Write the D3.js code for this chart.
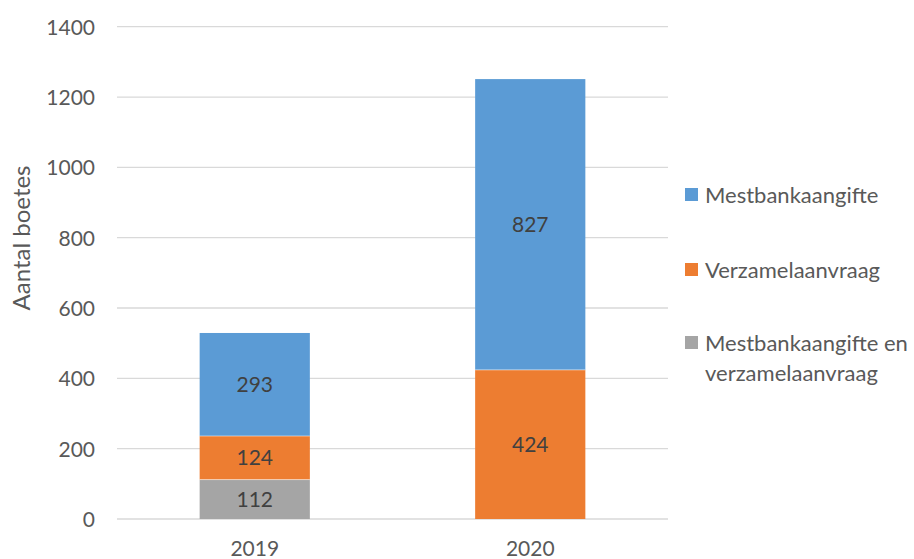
<!DOCTYPE html>
<html>
<head>
<meta charset="utf-8">
<script src="https://cdn.jsdelivr.net/npm/d3@7"></script>
<style>
  html, body { margin: 0; padding: 0; background: #fff; }
  svg { display: block; font-family: Lato, "Open Sans", sans-serif; }
</style>
</head>
<body>
<svg id="chart" width="914" height="559"></svg>
<script>
const years = ["2019", "2020"];
const seriesNames = ["Mestbankaangifte en verzamelaanvraag", "Verzamelaanvraag", "Mestbankaangifte"];
const combinedValues = [112, 0];
const verzamelValues = [124, 424];
const mestbankValues = [293, 827];
const yTicks = [0, 200, 400, 600, 800, 1000, 1200, 1400];
const colors = ["#A5A5A5", "#ED7D31", "#5B9BD5"];
const yTitle = "Aantal boetes";
const legendOrder = [
  { name: ["Mestbankaangifte"], color: "#5B9BD5" },
  { name: ["Verzamelaanvraag"], color: "#ED7D31" },
  { name: ["Mestbankaangifte en", "verzamelaanvraag"], color: "#A5A5A5" }
];

const svg = d3.select("#chart");
const mLeft = 117, mRight = 668, mTop = 26.7, mBottom = 519;
const textColor = "#595959";

const x = d3.scaleBand().domain(years).range([mLeft, mRight]).paddingInner(0.6).paddingOuter(0.3);
const y = d3.scaleLinear().domain([0, 1400]).range([mBottom, mTop]);

// gridlines
svg.append("g").selectAll("line").data(yTicks).join("line")
  .attr("x1", mLeft).attr("x2", mRight)
  .attr("y1", d => y(d)).attr("y2", d => y(d))
  .attr("stroke", "#D9D9D9").attr("stroke-width", 1.3);

// y axis labels
const yAxis = d3.axisLeft(y).tickValues(yTicks).tickSize(0).tickPadding(0).tickFormat(d3.format("d"));
const yg = svg.append("g").attr("transform", `translate(${mLeft - 22},0)`).call(yAxis);
yg.select(".domain").remove();
yg.selectAll("text").attr("fill", textColor).style("font-size", "21px").style("font-family", "Lato, sans-serif").attr("dy", "0.35em");

// x axis labels
const xAxis = d3.axisBottom(x).tickSize(0).tickPadding(0);
const xg = svg.append("g").attr("transform", `translate(0,${mBottom + 22})`).call(xAxis);
xg.select(".domain").remove();
xg.selectAll("text").attr("fill", textColor).style("font-size", "21px").style("font-family", "Lato, sans-serif").attr("dy", "0.71em");

// stacked data
const rows = years.map((yr, i) => ({
  year: yr,
  [seriesNames[0]]: combinedValues[i],
  [seriesNames[1]]: verzamelValues[i],
  [seriesNames[2]]: mestbankValues[i]
}));
const stack = d3.stack().keys(seriesNames)(rows);

const layers = svg.append("g").selectAll("g").data(stack).join("g")
  .attr("fill", (d, i) => colors[i]);
layers.selectAll("rect").data(d => d.filter(s => s[1] - s[0] > 0)).join("rect")
  .attr("x", d => x(d.data.year))
  .attr("width", x.bandwidth())
  .attr("y", d => y(d[1]))
  .attr("height", d => y(d[0]) - y(d[1]));

// separators between segments
layers.selectAll("line.sep").data(d => d.filter(s => s[1] - s[0] > 0 && s[0] > 0)).join("line")
  .attr("class", "sep")
  .attr("x1", d => x(d.data.year)).attr("x2", d => x(d.data.year) + x.bandwidth())
  .attr("y1", d => y(d[0])).attr("y2", d => y(d[0]))
  .attr("stroke", "#ffffff").attr("stroke-opacity", 0.5).attr("stroke-width", 1);

// data labels
layers.selectAll("text").data(d => d.filter(s => s[1] - s[0] > 0)).join("text")
  .attr("x", d => x(d.data.year) + x.bandwidth() / 2)
  .attr("y", d => y((d[0] + d[1]) / 2))
  .attr("dy", "0.36em")
  .attr("text-anchor", "middle")
  .attr("fill", "#404040")
  .style("font-size", "21px")
  .text(d => d[1] - d[0]);

// y title
svg.append("text")
  .attr("transform", `translate(30,238) rotate(-90)`)
  .attr("text-anchor", "middle")
  .attr("fill", textColor)
  .style("font-size", "24px")
  .text(yTitle);

// legend
const legendY = [195, 270, 343];
const lg = svg.append("g").selectAll("g").data(legendOrder).join("g")
  .attr("transform", (d, i) => `translate(685,${legendY[i]})`);
lg.append("rect").attr("x", 0).attr("y", -7).attr("width", 13).attr("height", 13).attr("fill", d => d.color);
lg.append("text")
  .attr("x", 20).attr("fill", textColor).style("font-size", "22px")
  .selectAll("tspan").data(d => d.name).join("tspan")
  .attr("x", 20).attr("dy", (d, i) => i === 0 ? "0.36em" : "30px")
  .text(d => d);
</script>
</body>
</html>
